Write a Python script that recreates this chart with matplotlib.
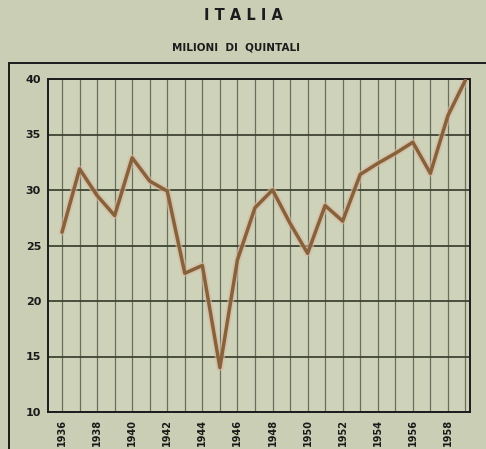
import matplotlib
matplotlib.use("Agg")
import matplotlib.pyplot as plt
from matplotlib.patches import Rectangle

years = list(range(1936, 1960))
values = [26.2, 31.9, 29.5, 27.7, 32.9, 30.8, 29.9, 22.5, 23.2, 14.0,
          23.7, 28.4, 30.0, 27.0, 24.3, 28.6, 27.2, 31.4, 32.4, 33.3,
          34.3, 31.5, 36.7, 39.9]
xtick_labels = [str(y) for y in range(1936, 1959, 2)]
ytick_vals = [10, 15, 20, 25, 30, 35, 40]

bg = "#c9ceb4"
fig = plt.figure(figsize=(4.86, 4.49), dpi=100, facecolor=bg)
ax = fig.add_axes([48/486, 1-412/449, 422/486, 333/449])
ax.set_facecolor("#cdd2b9")

ax.set_xlim(1935.2, 1959.26)
ax.set_ylim(10, 40)

# grid
for y in range(1936, 1960):
    ax.axvline(y, color="#6a6e5c", lw=0.9, zorder=1)
for v in ytick_vals:
    ax.axhline(v, color="#3f4433", lw=1.3, zorder=1)

ax.plot(years, values, color="#dcb4a0", lw=5.0, alpha=0.6, zorder=2,
        solid_joinstyle="round", solid_capstyle="round")
ax.plot(years, values, color="#85623a", lw=2.5, zorder=3,
        solid_joinstyle="round", solid_capstyle="round")

ax.set_xticks(range(1936, 1959, 2))
ax.set_xticklabels(xtick_labels, rotation=90, fontsize=7, fontweight="bold")
ax.set_yticks(ytick_vals)
ax.set_yticklabels([str(v) for v in ytick_vals], fontsize=8, fontweight="bold")
ax.tick_params(length=0, pad=5, colors="#1a1a1a")
for s in ax.spines.values():
    s.set_color("#1c1c1c")
    s.set_linewidth(1.4)

fig.text(243/486, 1-16/449, "I T A L I A", ha="center", va="center",
         fontsize=10.5, fontweight="bold", color="#1c1c1c")
fig.text(236/486, 1-47/449, "MILIONI  DI  QUINTALI", ha="center", va="center",
         fontsize=7.5, fontweight="bold", color="#1c1c1c")

fig.add_artist(Rectangle((9/486, -0.05), 1.0, 1-63/449+0.05,
                         transform=fig.transFigure, fill=False,
                         edgecolor="#1c1c1c", lw=1.4, clip_on=False))

fig.savefig("out.png", dpi=100, facecolor=bg)
